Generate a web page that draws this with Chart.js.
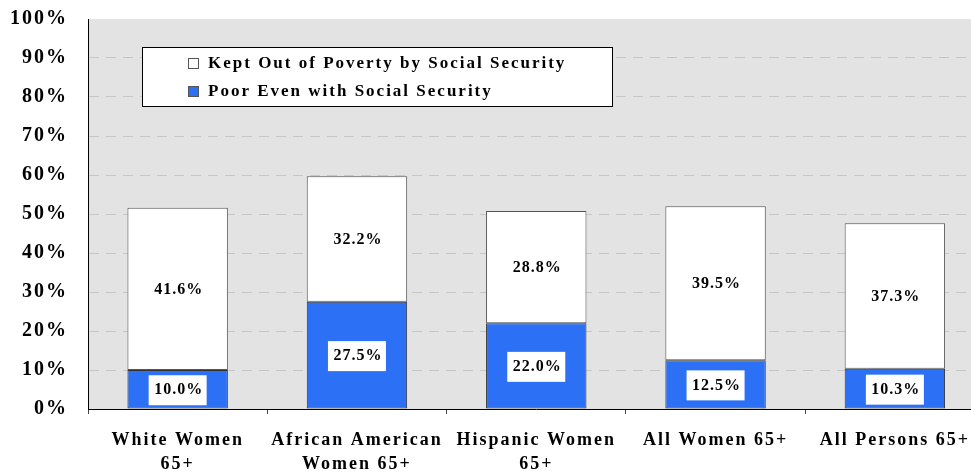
<!DOCTYPE html>
<html>
<head>
<meta charset="utf-8">
<script src="https://cdn.jsdelivr.net/npm/chart.js@4/dist/chart.umd.min.js"></script>
<style>
  html, body { margin: 0; padding: 0; overflow: hidden; background: #fff; }
</style>
</head>
<body>
<canvas id="js_poverty_chart" width="985" height="472"></canvas>
<script>
// categories (multi-line tick labels)
const categories = [
  ['White Women', '65+'],
  ['African American', 'Women 65+'],
  ['Hispanic Women', '65+'],
  ['All Women 65+'],
  ['All Persons 65+']
]
// percent of group still poor even with Social Security
const poorEven = [10.0, 27.5, 22.0, 12.5, 10.3]
// percent kept out of poverty by Social Security
const keptOut = [41.6, 32.2, 28.8, 39.5, 37.3]
const yTicks = [0, 10, 20, 30, 40, 50, 60, 70, 80, 90, 100]

const serif = '"Liberation Serif", "Times New Roman", serif'
const blue = '#2b70f5'

// letter spacing is reset whenever the canvas is resized, so set it each pass
const spacing = {
  id: 'spacing',
  beforeUpdate(chart) { chart.ctx.letterSpacing = '2px' },
  beforeDraw(chart) {
    chart.ctx.letterSpacing = '2px'
    const {left, top, right, bottom} = chart.chartArea
    chart.ctx.save()
    chart.ctx.fillStyle = '#e3e3e3'
    chart.ctx.fillRect(left, top, right - left, bottom - top)
    chart.ctx.restore()
  }
}

const valueLabels = {
  id: 'valueLabels',
  afterDatasetsDraw(chart) {
    const ctx = chart.ctx
    ctx.save()
    ctx.font = 'bold 16px ' + serif
    ctx.letterSpacing = '1px'
    ctx.textAlign = 'center'
    ctx.textBaseline = 'middle'
    chart.data.datasets.forEach((ds, i) => {
      chart.getDatasetMeta(i).data.forEach((bar, j) => {
        const text = ds.data[j].toFixed(1) + '%'
        const y = (bar.y + bar.base) / 2
        if (ds.boxed) {
          const w = ctx.measureText(text).width + 9
          ctx.fillStyle = '#fff'
          ctx.fillRect(bar.x - w / 2, y - 14, w, 30)
        }
        ctx.fillStyle = '#000'
        ctx.fillText(text, bar.x + 1, y + 1)
      })
    })
    ctx.restore()
  }
}

// legend box sits inside the plot, so draw it ourselves
const boxLegend = {
  id: 'boxLegend',
  afterDraw(chart) {
    const ctx = chart.ctx
    const items = [chart.data.datasets[1], chart.data.datasets[0]]
    ctx.save()
    ctx.fillStyle = '#fff'
    ctx.fillRect(142, 47, 470, 59)
    ctx.strokeStyle = '#000'
    ctx.lineWidth = 1
    ctx.strokeRect(142.5, 47.5, 470, 59)
    ctx.font = 'bold 17px ' + serif
    ctx.letterSpacing = '2px'
    ctx.textBaseline = 'middle'
    items.forEach((ds, i) => {
      const y = 63 + i * 28
      ctx.fillStyle = ds.backgroundColor
      ctx.fillRect(188, y - 5, 10, 10)
      ctx.strokeStyle = '#555'
      ctx.strokeRect(188.5, y - 4.5, 10, 10)
      ctx.fillStyle = '#000'
      ctx.fillText(ds.label, 208, y + 1)
    })
    ctx.restore()
  }
}

function povertyChart() {
  const data = {
    labels: categories,
    datasets: [
      {
        label: 'Poor Even with Social Security',
        data: poorEven,
        backgroundColor: blue,
        borderColor: '#333',
        borderWidth: 1,
        borderSkipped: false,
        boxed: true
      },
      {
        label: 'Kept Out of Poverty by Social Security',
        data: keptOut,
        backgroundColor: '#ffffff',
        borderColor: '#555',
        borderWidth: 1,
        borderSkipped: false,
        boxed: false
      }
    ]
  }

  const options = {
    responsive: false,
    animation: false,
    devicePixelRatio: 1,
    layout: { padding: { top: 19, left: 0, right: 0, bottom: 0 } },
    datasets: { bar: { categoryPercentage: 1, barPercentage: 0.56 } },
    plugins: { legend: { display: false }, tooltip: { enabled: false } },
    scales: {
      x: {
        stacked: true,
        grid: { display: true, drawOnChartArea: false, offset: true, tickLength: 5, color: '#444' },
        border: { display: true, color: '#000', width: 1 },
        ticks: {
          maxRotation: 0,
          autoSkip: false,
          padding: 15,
          color: '#000',
          font: { family: serif, size: 18, weight: 'bold', lineHeight: 1.3 }
        },
        afterFit(scale) { scale.height = 63 }
      },
      y: {
        stacked: true,
        min: 0,
        max: 100,
        afterBuildTicks(scale) { scale.ticks = yTicks.map(v => ({value: v})) },
        grid: {
          drawTicks: false,
          color: c => (c.tick && (c.tick.value === 0 || c.tick.value === 100)) ? 'rgba(0,0,0,0)' : '#c6c6c6'
        },
        border: { display: true, color: '#000', width: 1, dash: [10, 7] },
        ticks: {
          padding: 20,
          color: '#000',
          font: { family: serif, size: 20, weight: 'bold' },
          callback: v => v + '%'
        },
        // tick padding would otherwise push the plot top down
        afterFit(scale) {
          scale.width = 88
          scale.paddingTop = 0
          scale.paddingBottom = 0
        }
      }
    }
  }

  const config = {
    type: 'bar',
    data,
    options,
    plugins: [spacing, valueLabels, boxLegend]
  }

  const ctx = document.getElementById('js_poverty_chart').getContext('2d')
  const chart = new Chart(ctx, config)
}

povertyChart()
</script>
</body>
</html>
